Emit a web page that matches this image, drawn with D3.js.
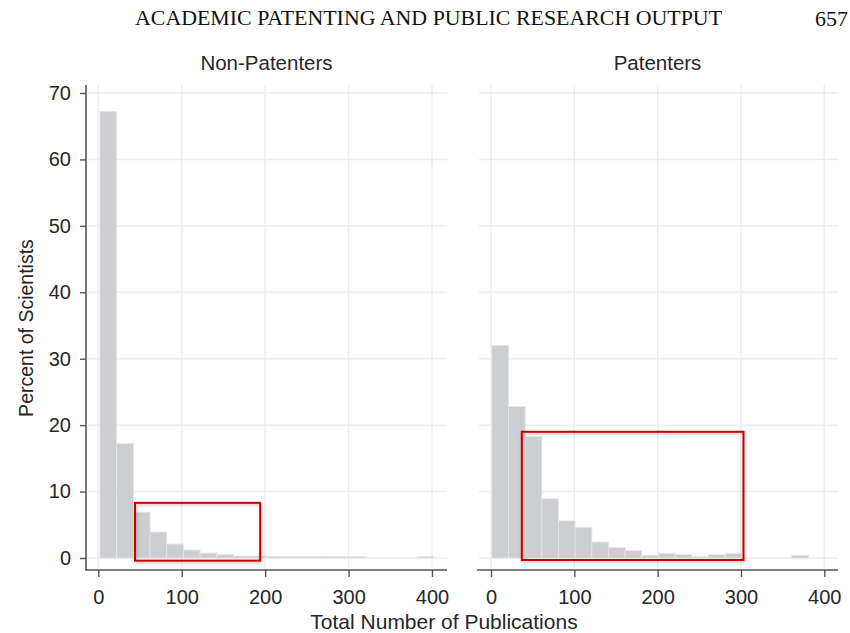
<!DOCTYPE html>
<html>
<head>
<meta charset="utf-8">
<script src="https://cdn.jsdelivr.net/npm/d3@7"></script>
<style>
  body { margin: 0; background: #fff; }
  text { font-family: "Liberation Sans", Arial, sans-serif; fill: #262626; }
  .serif { font-family: "Liberation Serif", "Times New Roman", serif; fill: #111; }
</style>
</head>
<body>
<svg id="chart" width="850" height="633"></svg>
<script>
// histogram data (percent of scientists per 20-publication bin)
const binWidth = 20;
const panelTitles = ['Non-Patenters', 'Patenters'];
const binStarts = [2, 1];
const nonPatenterPct = [67.2, 17.2, 6.9, 3.9, 2.1, 1.2, 0.75, 0.5, 0.3, 0.3, 0.25, 0.2, 0.2, 0.25, 0.2, 0.2, 0, 0, 0, 0.2];
const patenterPct = [32.0, 22.8, 18.3, 8.9, 5.6, 4.6, 2.4, 1.6, 1.1, 0.4, 0.7, 0.5, 0.2, 0.5, 0.7, 0, 0, 0, 0.4];
const xTicks = [0, 100, 200, 300, 400];
const yTicks = [0, 10, 20, 30, 40, 50, 60, 70];
// red highlight boxes: [x0, x1, y0, y1] in data units
const boxNon = [44, 194, -0.4, 8.3];
const boxPat = [37, 303, -0.3, 19.0];

const svg = d3.select('#chart');

// page header
svg.append('text').attr('class', 'serif')
  .attr('x', 135).attr('y', 25)
  .attr('font-size', 20)
  .attr('textLength', 587).attr('lengthAdjust', 'spacingAndGlyphs')
  .text('ACADEMIC PATENTING AND PUBLIC RESEARCH OUTPUT');
svg.append('text').attr('class', 'serif')
  .attr('x', 848).attr('y', 26)
  .attr('text-anchor', 'end')
  .attr('font-size', 22)
  .text('657');

const y = d3.scaleLinear().domain([0, 70]).range([558, 93]);

const panels = [
  { title: panelTitles[0], data: nonPatenterPct, start: binStarts[0], box: boxNon,
    range: [98.3, 432], left: 86, right: 447, axis: true },
  { title: panelTitles[1], data: patenterPct, start: binStarts[1], box: boxPat,
    range: [491, 824.3], left: 477, right: 838, axis: false }
];

const defs = svg.append('defs');
defs.append('filter').attr('id', 'shadow')
  .attr('x', '-10%').attr('y', '-10%').attr('width', '120%').attr('height', '130%')
  .append('feDropShadow')
  .attr('dx', 1).attr('dy', 1.5).attr('stdDeviation', 1.5)
  .attr('flood-color', '#000').attr('flood-opacity', 0.25);

panels.forEach(p => {
  const x = d3.scaleLinear().domain([0, 400]).range(p.range);
  const g = svg.append('g');
  const bins = p.data.map((v, i) => ({ x0: p.start + i * binWidth, x1: p.start + (i + 1) * binWidth, v }))
    .filter(b => b.v > 0);

  // gridlines
  g.selectAll('.hgrid').data(yTicks).enter().append('line')
    .attr('x1', p.left + 2).attr('x2', p.right)
    .attr('y1', d => y(d)).attr('y2', d => y(d))
    .attr('stroke', '#eeeeee').attr('stroke-width', 1.5);
  g.selectAll('.vgrid').data(xTicks).enter().append('line')
    .attr('x1', d => x(d)).attr('x2', d => x(d))
    .attr('y1', 85).attr('y2', 568)
    .attr('stroke', '#eeeeee').attr('stroke-width', 1.5);

  // bars
  g.selectAll('.bar').data(bins).enter().append('rect')
    .attr('x', d => x(d.x0))
    .attr('width', d => x(d.x1) - x(d.x0))
    .attr('y', d => y(d.v))
    .attr('height', d => y(0) - y(d.v))
    .attr('fill', '#cdced1')
    .attr('stroke', '#e4e5e7').attr('stroke-width', 0.8);

  // x axis
  const xAxis = g.append('g').attr('transform', 'translate(0,570)')
    .call(d3.axisBottom(x).tickValues(xTicks).tickSize(7).tickPadding(13));
  xAxis.select('.domain').remove();
  xAxis.append('line').attr('x1', p.left).attr('x2', p.right)
    .attr('stroke', '#555').attr('stroke-width', 1.6);
  xAxis.selectAll('.tick line').attr('stroke', '#555').attr('stroke-width', 1.4);
  xAxis.selectAll('.tick text').attr('font-size', 20).attr('fill', '#262626')
    .attr('font-family', '"Liberation Sans", Arial, sans-serif');

  // y axis only on first panel
  if (p.axis) {
    const yAxis = g.append('g').attr('transform', `translate(${p.left},0)`)
      .call(d3.axisLeft(y).tickValues(yTicks).tickSize(6).tickPadding(9));
    yAxis.select('.domain').remove();
    yAxis.append('line').attr('y1', 85).attr('y2', 570.8)
      .attr('stroke', '#555').attr('stroke-width', 1.6);
    yAxis.selectAll('.tick line').attr('stroke', '#555').attr('stroke-width', 1.4);
    yAxis.selectAll('.tick text').attr('font-size', 20).attr('fill', '#262626')
      .attr('font-family', '"Liberation Sans", Arial, sans-serif');
  }

  // panel title
  svg.append('text')
    .attr('x', (p.left + p.right) / 2).attr('y', 70)
    .attr('text-anchor', 'middle').attr('font-size', 20.5)
    .text(p.title);

  // highlight box
  const [bx0, bx1, by0, by1] = p.box;
  svg.append('rect')
    .attr('x', x(bx0)).attr('y', y(by1))
    .attr('width', x(bx1) - x(bx0)).attr('height', y(by0) - y(by1))
    .attr('fill', 'none').attr('stroke', '#c80000').attr('stroke-width', 2)
    .attr('filter', 'url(#shadow)');
});

// axis titles
svg.append('text')
  .attr('transform', 'translate(33,328) rotate(-90)')
  .attr('text-anchor', 'middle').attr('font-size', 19.5)
  .text('Percent of Scientists');
svg.append('text')
  .attr('x', 444).attr('y', 629)
  .attr('text-anchor', 'middle').attr('font-size', 21)
  .text('Total Number of Publications');
</script>
</body>
</html>
